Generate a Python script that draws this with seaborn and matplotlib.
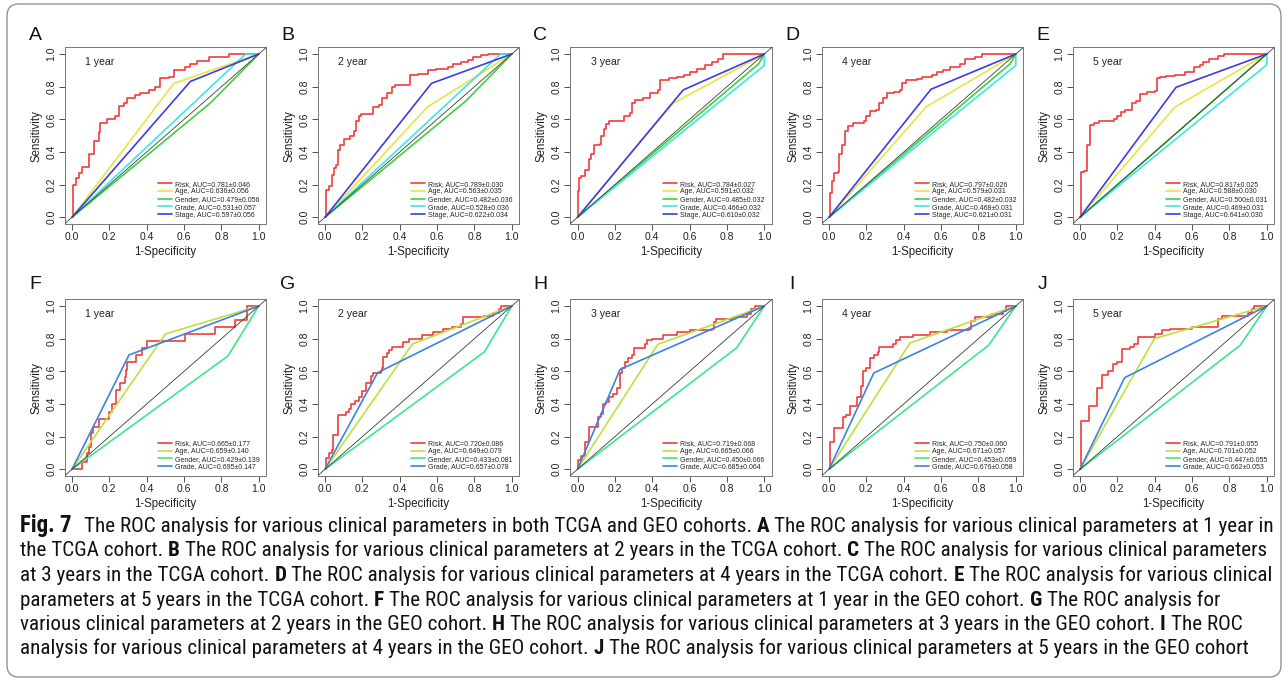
# ROC curves for clinical parameters, TCGA (top row) and GEO (bottom row)

import pandas as pd
import seaborn as sns
import matplotlib.pyplot as plt
from matplotlib import font_manager
from matplotlib.patches import FancyBboxPatch
from matplotlib.transforms import IdentityTransform

W, H = 1285, 681

years = ['1 year', '2 year', '3 year', '4 year', '5 year']
tcga_letters = ['A', 'B', 'C', 'D', 'E']
geo_letters = ['F', 'G', 'H', 'I', 'J']

# risk score step curves: fpr where the curve jumps up, tpr after the jump
a_fpr = [0, 0.005, 0.023, 0.036, 0.054, 0.089, 0.116, 0.143, 0.152, 0.19, 0.232, 0.25, 0.277, 0.295,
         0.339, 0.366, 0.41, 0.446, 0.47, 0.518, 0.545, 0.607, 0.634, 0.67, 0.732, 0.839, 1.0]
a_tpr = [0, 0.20, 0.24, 0.27, 0.31, 0.39, 0.47, 0.52, 0.58, 0.60, 0.62, 0.68, 0.70, 0.73,
         0.75, 0.76, 0.78, 0.80, 0.85, 0.86, 0.90, 0.92, 0.94, 0.96, 0.98, 1.0, 1.0]
b_fpr = [0, 0.007, 0.021, 0.035, 0.048, 0.057, 0.071, 0.078, 0.10, 0.136, 0.154, 0.166, 0.18, 0.195, 0.255, 0.287,
         0.304, 0.331, 0.358, 0.375, 0.455, 0.50, 0.552, 0.596, 0.658, 0.685, 0.729, 0.765, 0.791, 0.835, 0.871, 1.0]
b_tpr = [0, 0.17, 0.19, 0.26, 0.30, 0.32, 0.41, 0.44, 0.48, 0.50, 0.53, 0.59, 0.62, 0.635, 0.676, 0.69,
         0.73, 0.76, 0.795, 0.81, 0.87, 0.88, 0.90, 0.91, 0.92, 0.94, 0.95, 0.965, 0.98, 0.995, 1.0, 1.0]
c_fpr = [0, 0.005, 0.01, 0.02, 0.04, 0.06, 0.07, 0.09, 0.12, 0.125, 0.14, 0.155, 0.17, 0.25, 0.28, 0.29,
         0.31, 0.35, 0.39, 0.43, 0.44, 0.49, 0.53, 0.57, 0.60, 0.64, 0.68, 0.72, 0.75, 0.78, 1.0]
c_tpr = [0, 0.16, 0.24, 0.25, 0.29, 0.36, 0.39, 0.44, 0.45, 0.50, 0.54, 0.57, 0.59, 0.62, 0.64, 0.70,
         0.72, 0.73, 0.76, 0.78, 0.84, 0.85, 0.86, 0.87, 0.89, 0.91, 0.93, 0.95, 0.97, 1.0, 1.0]
d_fpr = [0, 0.005, 0.015, 0.025, 0.05, 0.055, 0.07, 0.085, 0.10, 0.13, 0.19, 0.20, 0.22, 0.25, 0.27, 0.29,
         0.31, 0.35, 0.38, 0.39, 0.41, 0.47, 0.50, 0.55, 0.58, 0.61, 0.65, 0.70, 0.73, 0.78, 0.82, 1.0]
d_tpr = [0, 0.15, 0.22, 0.27, 0.28, 0.39, 0.44, 0.53, 0.56, 0.58, 0.59, 0.62, 0.65, 0.66, 0.70, 0.73,
         0.76, 0.77, 0.78, 0.82, 0.84, 0.845, 0.86, 0.87, 0.89, 0.90, 0.92, 0.94, 0.97, 0.98, 1.0, 1.0]
e_fpr = [0, 0.005, 0.02, 0.04, 0.055, 0.075, 0.10, 0.18, 0.20, 0.22, 0.24, 0.28, 0.30, 0.32,
         0.36, 0.40, 0.41, 0.43, 0.46, 0.51, 0.56, 0.61, 0.64, 0.66, 0.69, 0.74, 0.77, 1.0]
e_tpr = [0, 0.275, 0.285, 0.44, 0.565, 0.575, 0.59, 0.60, 0.62, 0.645, 0.66, 0.70, 0.71, 0.755,
         0.77, 0.775, 0.85, 0.86, 0.865, 0.87, 0.89, 0.92, 0.93, 0.95, 0.97, 0.99, 1.0, 1.0]
f_fpr = [0, 0.054, 0.079, 0.09, 0.102, 0.115, 0.144, 0.20, 0.215, 0.237, 0.255,
         0.282, 0.29, 0.296, 0.341, 0.377, 0.40, 0.605, 0.767, 0.874, 0.937, 1.0]
f_tpr = [0, 0.047, 0.098, 0.139, 0.22, 0.26, 0.31, 0.353, 0.40, 0.486, 0.527,
         0.567, 0.608, 0.66, 0.70, 0.741, 0.786, 0.829, 0.869, 0.914, 1.0, 1.0]
g_fpr = [0, 0.005, 0.02, 0.04, 0.045, 0.07, 0.10, 0.11, 0.13, 0.14, 0.16, 0.18, 0.20, 0.22, 0.245, 0.255, 0.30, 0.305,
         0.31, 0.33, 0.34, 0.36, 0.42, 0.45, 0.52, 0.58, 0.63, 0.68, 0.73, 0.74, 0.85, 0.90, 0.93, 0.94, 1.0]
g_tpr = [0, 0.07, 0.10, 0.12, 0.21, 0.33, 0.33, 0.35, 0.37, 0.40, 0.42, 0.44, 0.48, 0.53, 0.57, 0.59, 0.60, 0.62,
         0.69, 0.71, 0.73, 0.75, 0.78, 0.80, 0.82, 0.84, 0.86, 0.87, 0.89, 0.93, 0.94, 0.96, 0.98, 1.0, 1.0]
h_fpr = [0, 0.005, 0.02, 0.04, 0.06, 0.11, 0.125, 0.135, 0.15, 0.17, 0.19, 0.21, 0.225, 0.24, 0.255, 0.27,
         0.29, 0.30, 0.36, 0.37, 0.40, 0.46, 0.53, 0.60, 0.72, 0.73, 0.74, 0.84, 0.91, 0.93, 0.95, 1.0]
h_tpr = [0, 0.06, 0.08, 0.17, 0.26, 0.32, 0.34, 0.40, 0.41, 0.44, 0.46, 0.50, 0.59, 0.62, 0.66, 0.68,
         0.70, 0.74, 0.77, 0.79, 0.80, 0.82, 0.84, 0.85, 0.86, 0.90, 0.92, 0.93, 0.95, 0.98, 1.0, 1.0]
i_fpr = [0, 0.005, 0.025, 0.075, 0.09, 0.11, 0.15, 0.17, 0.18, 0.20, 0.22, 0.24, 0.26, 0.27,
         0.34, 0.36, 0.38, 0.45, 0.54, 0.63, 0.75, 0.76, 0.78, 0.87, 0.93, 0.95, 1.0]
i_tpr = [0, 0.17, 0.255, 0.32, 0.33, 0.39, 0.44, 0.51, 0.60, 0.62, 0.68, 0.70, 0.72, 0.75,
         0.77, 0.79, 0.81, 0.82, 0.84, 0.85, 0.86, 0.91, 0.93, 0.95, 0.97, 1.0, 1.0]
j_fpr = [0, 0.005, 0.05, 0.09, 0.12, 0.15, 0.175, 0.20, 0.225, 0.27, 0.29,
         0.31, 0.40, 0.44, 0.48, 0.60, 0.74, 0.76, 0.90, 0.92, 0.93, 1.0]
j_tpr = [0, 0.295, 0.39, 0.50, 0.58, 0.60, 0.645, 0.66, 0.735, 0.75, 0.77,
         0.81, 0.83, 0.85, 0.86, 0.87, 0.92, 0.94, 0.96, 0.98, 1.0, 1.0]

# categorical markers: interior ROC knot (fpr, tpr) for each year; None = straight diagonal
tcga_age = [(0.545, 0.82), (0.549, 0.676), (0.512, 0.698), (0.52, 0.676), (0.509, 0.676)]
tcga_gender = [(0.741, 0.70), (0.755, 0.713), (0.97, 0.94), (0.97, 0.94), None]
tcga_grade = [(0.93, 1.0), (0.94, 1.0), (1.0, 0.93), (1.0, 0.93), (1.0, 0.934)]
tcga_stage = [(0.634, 0.832), (0.57, 0.82), (0.566, 0.78), (0.546, 0.784), (0.514, 0.796)]
geo_age = [(0.50, 0.829), (0.468, 0.767), (0.43, 0.765), (0.434, 0.774), (0.398, 0.80)]
geo_gender = [(0.835, 0.694), (0.854, 0.72), (0.853, 0.745), (0.855, 0.76), (0.858, 0.76)]
geo_grade = [(0.305, 0.70), (0.282, 0.592), (0.228, 0.612), (0.24, 0.59), (0.239, 0.561)]

tcga_risk_auc = ['0.781±0.046', '0.789±0.030', '0.784±0.027', '0.797±0.026', '0.817±0.025']
tcga_age_auc = ['0.636±0.056', '0.563±0.035', '0.591±0.032', '0.579±0.031', '0.588±0.030']
tcga_gender_auc = ['0.479±0.056', '0.482±0.036', '0.485±0.032', '0.482±0.032', '0.500±0.031']
tcga_grade_auc = ['0.531±0.057', '0.528±0.036', '0.466±0.032', '0.468±0.031', '0.469±0.031']
tcga_stage_auc = ['0.597±0.056', '0.622±0.034', '0.610±0.032', '0.621±0.031', '0.641±0.030']
geo_risk_auc = ['0.665±0.177', '0.720±0.086', '0.719±0.068', '0.750±0.060', '0.791±0.055']
geo_age_auc = ['0.659±0.140', '0.649±0.079', '0.665±0.066', '0.671±0.057', '0.701±0.052']
geo_gender_auc = ['0.429±0.139', '0.433±0.081', '0.450±0.066', '0.453±0.059', '0.447±0.055']
geo_grade_auc = ['0.695±0.147', '0.657±0.078', '0.685±0.064', '0.676±0.058', '0.662±0.053']

tcga_colors = ['#f23b3b', '#e8e440', '#3cd23c', '#3ce6e6', '#3c3ce6']
geo_colors = ['#f23b3b', '#bde03c', '#3ce68a', '#3c82e6']

caption = [
    [('Fig. 7', True), ('The ROC analysis for various clinical parameters in both TCGA and GEO cohorts.', False),
     ('A', True), ('The ROC analysis for various clinical parameters at 1 year in', False)],
    [('the TCGA cohort.', False), ('B', True), ('The ROC analysis for various clinical parameters at 2 years in the TCGA cohort.', False),
     ('C', True), ('The ROC analysis for various clinical parameters', False)],
    [('at 3 years in the TCGA cohort.', False), ('D', True), ('The ROC analysis for various clinical parameters at 4 years in the TCGA cohort.', False),
     ('E', True), ('The ROC analysis for various clinical', False)],
    [('parameters at 5 years in the TCGA cohort.', False), ('F', True), ('The ROC analysis for various clinical parameters at 1 year in the GEO cohort.', False),
     ('G', True), ('The ROC analysis for', False)],
    [('various clinical parameters at 2 years in the GEO cohort.', False), ('H', True), ('The ROC analysis for various clinical parameters at 3 years in the GEO cohort.', False),
     ('I', True), ('The ROC', False)],
    [('analysis for various clinical parameters at 4 years in the GEO cohort.', False), ('J', True),
     ('The ROC analysis for various clinical parameters at 5 years in the GEO cohort', False)],
]

# ---- drawing ----
sns.set_style("ticks")
plt.rcParams['font.family'] = ['Liberation Sans', 'DejaVu Sans']

fig = plt.figure(figsize=(W / 100, H / 100), dpi=100)

col_x0 = [72, 325, 577.5, 829, 1080]   # pixel x of fpr = 0
unit_x = 186.8
row_y1 = [54, 306]                       # pixel y of tpr = 1
unit_y = 163.3
letter_y = [35, 285]


def make_ax(col, row):
    left = col_x0[col] - 0.04 * unit_x
    top = row_y1[row] - 0.04 * unit_y
    w, h = 1.08 * unit_x, 1.08 * unit_y
    return fig.add_axes([left / W, 1 - (top + h) / H, w / W, h / H])


def draw_panel(ax, risk_fpr, risk_tpr, knots, names, aucs, colors, year, letter, col, row):
    sns.lineplot(data=pd.DataFrame({'fpr': risk_fpr, 'tpr': risk_tpr}), x='fpr', y='tpr', ax=ax,
                 color=colors[0], lw=1.2, drawstyle='steps-post', estimator=None, sort=False,
                 label='Risk, AUC=' + aucs[0])
    for k, name, auc, c in zip(knots, names, aucs[1:], colors[1:]):
        if k is None:
            fpr, tpr = [0, 1], [0, 1]
        else:
            fpr, tpr = [0, k[0], 1], [0, k[1], 1]
        sns.lineplot(data=pd.DataFrame({'fpr': fpr, 'tpr': tpr}), x='fpr', y='tpr', ax=ax,
                     color=c, lw=1.2, estimator=None, sort=False, label=name + ', AUC=' + auc)
    ax.plot([-0.04, 1.04], [-0.04, 1.04], color='#3a3a3a', lw=0.6, zorder=5)

    ax.set_xlim(-0.04, 1.04)
    ax.set_ylim(-0.04, 1.04)
    ticks = [0, 0.2, 0.4, 0.6, 0.8, 1.0]
    ax.set_xticks(ticks)
    ax.set_xticklabels([f'{t:.1f}' for t in ticks])
    ax.set_yticks(ticks)
    ax.set_yticklabels([f'{t:.1f}' for t in ticks], rotation=90, va='center')
    ax.tick_params(direction='out', length=4, width=0.6, labelsize=7.5, pad=2, color='#333', labelcolor='#222')
    for s in ax.spines.values():
        s.set_visible(True)
        s.set_linewidth(0.7)
        s.set_color('#777')
    ax.set_xlabel('1-Specificity', fontsize=8.3, color='#222', labelpad=3)
    ax.set_ylabel('Sensitivity', fontsize=8.3, color='#222', labelpad=3)

    ax.text(0.07, 0.95, year, fontsize=7.6, va='center', ha='left', color='#222')
    ax.legend(loc='lower left', bbox_to_anchor=(0.463, 0.03), frameon=False, fontsize=5.0,
              handlelength=2.0, handletextpad=0.45, labelspacing=0.1, borderpad=0, borderaxespad=0)
    fig.text((col_x0[col] - 37) / W, 1 - letter_y[row] / H, letter, fontsize=14,
             ha='center', va='center', color='#111')


tcga_risk = [(a_fpr, a_tpr), (b_fpr, b_tpr), (c_fpr, c_tpr), (d_fpr, d_tpr), (e_fpr, e_tpr)]
geo_risk = [(f_fpr, f_tpr), (g_fpr, g_tpr), (h_fpr, h_tpr), (i_fpr, i_tpr), (j_fpr, j_tpr)]

for i in range(5):
    ax = make_ax(i, 0)
    draw_panel(ax, tcga_risk[i][0], tcga_risk[i][1],
               [tcga_age[i], tcga_gender[i], tcga_grade[i], tcga_stage[i]],
               ['Age', 'Gender', 'Grade', 'Stage'],
               [tcga_risk_auc[i], tcga_age_auc[i], tcga_gender_auc[i], tcga_grade_auc[i], tcga_stage_auc[i]],
               tcga_colors, years[i], tcga_letters[i], i, 0)
    ax = make_ax(i, 1)
    draw_panel(ax, geo_risk[i][0], geo_risk[i][1],
               [geo_age[i], geo_gender[i], geo_grade[i]],
               ['Age', 'Gender', 'Grade'],
               [geo_risk_auc[i], geo_age_auc[i], geo_gender_auc[i], geo_grade_auc[i]],
               geo_colors, years[i], geo_letters[i], i, 1)

# caption, set piece by piece so the bold panel letters sit inline
avail = {f.name for f in font_manager.fontManager.ttflist}
cap_family = next((f for f in ['Liberation Sans Narrow', 'Roboto Condensed', 'Open Sans Condensed']
                   if f in avail), 'Liberation Sans')
renderer = fig.canvas.get_renderer()


def text_width(s, size, bold):
    t = fig.text(0, 0, s, fontsize=size, family=cap_family, fontweight='bold' if bold else 'normal')
    w = t.get_window_extent(renderer).width
    t.remove()
    return w


target = 1242.0
plain = ' '.join(s for s, _ in caption[1])
cap_size = 10 * target / text_width(plain, 10, False)
space = text_width('x x', cap_size, False) - text_width('xx', cap_size, False)

cap_left = 20
cap_base = [532, 556.5, 581, 605.5, 630, 654.5]
for line, yb in zip(caption, cap_base):
    x = cap_left
    for s, bold in line:
        size = cap_size * 1.08 if s == 'Fig. 7' else cap_size
        t = fig.text(x / W, 1 - yb / H, s, fontsize=size, family=cap_family,
                     fontweight='bold' if bold else 'normal', va='baseline', ha='left', color='#111')
        x += t.get_window_extent(renderer).width + (space * 2.5 if s == 'Fig. 7' else space)

fig.add_artist(FancyBboxPatch((7, 4), 1274, 673, boxstyle='round,pad=0,rounding_size=12',
                              transform=IdentityTransform(), fill=False, lw=0.9, ec='#888'))

fig.savefig('out.png', dpi=100)
